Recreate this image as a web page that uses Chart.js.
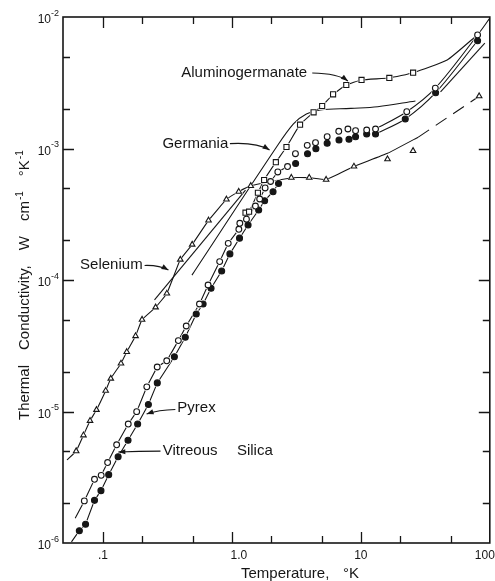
<!DOCTYPE html>
<html>
<head>
<meta charset="utf-8">
<script src="https://cdn.jsdelivr.net/npm/chart.js@4/dist/chart.umd.min.js"></script>
<style>
  html, body { margin: 0; padding: 0; background: #fff; }
  #wrap { width: 495px; height: 581px; position: relative; }
</style>
</head>
<body>
<div id="wrap"><canvas id="c"></canvas></div>
<script>
// Thermal conductivity of glasses vs temperature (log-log)

// Temperature (K) and conductivity (W cm^-1 K^-1) of the measured points
const seleniumT = [0.062, 0.0706, 0.0794, 0.0891, 0.105, 0.115, 0.138, 0.153, 0.179, 0.201, 0.256, 0.313, 0.398, 0.492, 0.659, 0.907, 1.13, 1.40, 2.89, 3.98, 5.38, 8.84, 16.1, 25.4, 82.7];
const seleniumK = [5.0e-6, 6.6e-6, 8.5e-6, 1.03e-5, 1.44e-5, 1.78e-5, 2.32e-5, 2.84e-5, 3.75e-5, 5.0e-5, 6.2e-5, 7.9e-5, 1.43e-4, 1.86e-4, 2.84e-4, 4.1e-4, 4.7e-4, 5.2e-4, 6.0e-4, 6.0e-4, 5.8e-4, 7.3e-4, 8.3e-4, 9.6e-4, 2.5e-3];

const pyrexT = [0.0717, 0.0860, 0.0969, 0.1087, 0.1277, 0.1571, 0.1826, 0.2188, 0.2635, 0.3124, 0.3843, 0.4426, 0.5604, 0.6536, 0.804, 0.9366, 1.132, 1.152, 1.297, 1.522, 1.642, 1.810, 1.995, 2.27, 2.70, 3.11, 3.84, 4.45, 5.48, 6.74, 7.94, 9.10, 11.1, 13.0, 22.7, 37.8, 80.4];
const pyrexK = [2.09e-6, 3.05e-6, 3.27e-6, 4.09e-6, 5.58e-6, 8.03e-6, 9.97e-6, 1.54e-5, 2.18e-5, 2.43e-5, 3.46e-5, 4.47e-5, 6.57e-5, 9.16e-5, 1.38e-4, 1.90e-4, 2.43e-4, 2.70e-4, 2.90e-4, 3.65e-4, 4.13e-4, 5.01e-4, 5.61e-4, 6.63e-4, 7.29e-4, 9.13e-4, 1.057e-3, 1.107e-3, 1.229e-3, 1.351e-3, 1.407e-3, 1.366e-3, 1.383e-3, 1.407e-3, 1.905e-3, 2.88e-3, 7.30e-3];

const silicaT = [0.0656, 0.0733, 0.0860, 0.0965, 0.1108, 0.1311, 0.1565, 0.1858, 0.2251, 0.2639, 0.358, 0.435, 0.529, 0.598, 0.689, 0.833, 0.965, 1.146, 1.335, 1.613, 1.794, 2.085, 2.30, 3.12, 3.86, 4.48, 5.48, 6.77, 8.09, 9.10, 11.1, 13.0, 22.1, 38.0, 80.4];
const silicaK = [1.24e-6, 1.39e-6, 2.11e-6, 2.50e-6, 3.31e-6, 4.53e-6, 6.04e-6, 8.03e-6, 1.13e-5, 1.65e-5, 2.61e-5, 3.67e-5, 5.51e-5, 6.57e-5, 8.65e-5, 1.17e-4, 1.58e-4, 2.08e-4, 2.62e-4, 3.41e-4, 4.01e-4, 4.69e-4, 5.42e-4, 7.69e-4, 9.13e-4, 9.96e-4, 1.095e-3, 1.16e-3, 1.175e-3, 1.229e-3, 1.289e-3, 1.289e-3, 1.676e-3, 2.656e-3, 6.60e-3];

const alumT = [1.275, 1.359, 1.591, 1.778, 2.192, 2.65, 3.377, 4.30, 5.01, 6.09, 7.71, 10.12, 16.63, 25.43];
const alumK = [3.25e-4, 3.31e-4, 4.61e-4, 5.76e-4, 7.87e-4, 1.027e-3, 1.517e-3, 1.884e-3, 2.104e-3, 2.583e-3, 3.04e-3, 3.32e-3, 3.44e-3, 3.77e-3];

// Drawn curves
const seleniumLineT = [0.0526, 0.062, 0.0706, 0.0794, 0.0891, 0.105, 0.115, 0.138, 0.153, 0.179, 0.201, 0.256, 0.313, 0.398, 0.492, 0.659, 0.907, 1.13, 1.40, 2.89, 3.98, 5.38, 8.84, 16.1, 27.9];
const seleniumLineK = [4.28e-6, 5.0e-6, 6.6e-6, 8.5e-6, 1.03e-5, 1.44e-5, 1.78e-5, 2.32e-5, 2.84e-5, 3.75e-5, 5.0e-5, 6.2e-5, 7.9e-5, 1.43e-4, 1.86e-4, 2.84e-4, 4.1e-4, 4.7e-4, 5.2e-4, 6.0e-4, 6.0e-4, 5.8e-4, 7.3e-4, 9.19e-4, 1.22e-3];
const seleniumDashT = [27.9, 82.7];
const seleniumDashK = [1.22e-3, 2.5e-3];
const seleniumFitT = [0.251, 1.275];
const seleniumFitK = [7.05e-5, 4.83e-4];

const pyrexLowT = [0.0609, 0.0717, 0.0860, 0.0969, 0.1087, 0.1277, 0.1571, 0.1826, 0.2188, 0.2635, 0.3124, 0.3843, 0.4426, 0.5604, 0.6536, 0.804, 0.9366, 1.132, 1.152, 1.297, 1.522, 1.642, 1.810, 1.995, 2.27, 2.70];
const pyrexLowK = [1.54e-6, 2.09e-6, 3.05e-6, 3.27e-6, 4.09e-6, 5.58e-6, 8.03e-6, 9.97e-6, 1.54e-5, 2.18e-5, 2.43e-5, 3.46e-5, 4.47e-5, 6.57e-5, 9.16e-5, 1.38e-4, 1.90e-4, 2.43e-4, 2.70e-4, 2.90e-4, 3.65e-4, 4.13e-4, 5.01e-4, 5.61e-4, 6.63e-4, 7.29e-4];
const pyrexHighT = [13.0, 22.7, 37.8, 80.4, 100];
const pyrexHighK = [1.407e-3, 1.905e-3, 2.88e-3, 7.30e-3, 9.8e-3];

const silicaLowT = [0.057, 0.0656, 0.0733, 0.0860, 0.0965, 0.1108, 0.1311, 0.1565, 0.1858, 0.2251, 0.2639, 0.358, 0.435, 0.529, 0.598, 0.689, 0.833, 0.965, 1.146, 1.335, 1.613, 1.794, 2.085, 2.30];
const silicaLowK = [1.02e-6, 1.24e-6, 1.39e-6, 2.11e-6, 2.50e-6, 3.31e-6, 4.53e-6, 6.04e-6, 8.03e-6, 1.13e-5, 1.65e-5, 2.61e-5, 3.67e-5, 5.51e-5, 6.57e-5, 8.65e-5, 1.17e-4, 1.58e-4, 2.08e-4, 2.62e-4, 3.41e-4, 4.01e-4, 4.69e-4, 5.42e-4];
const silicaHighT = [13.0, 22.1, 38.0, 80.4];
const silicaHighK = [1.289e-3, 1.676e-3, 2.656e-3, 6.60e-3];

const alumLineT = [1.275, 1.359, 1.591, 1.778, 2.192, 2.65, 3.377, 4.30, 5.01, 6.09, 7.71, 10.12, 16.63, 25.43, 46.7, 76.7];
const alumLineK = [3.25e-4, 3.31e-4, 4.61e-4, 5.76e-4, 7.87e-4, 1.027e-3, 1.517e-3, 1.884e-3, 2.104e-3, 2.583e-3, 3.04e-3, 3.32e-3, 3.44e-3, 3.77e-3, 4.71e-3, 7.05e-3];

const germaniaT = [0.49, 2.14, 3.0, 3.78, 4.84, 8.38, 13.5, 26.5];
const germaniaK = [1.09e-4, 9.74e-4, 1.54e-3, 1.83e-3, 1.96e-3, 2.02e-3, 2.08e-3, 2.30e-3];
const germaniaHighT = [41.5, 91.5];
const germaniaHighK = [2.70e-3, 6.34e-3];

// Axis ticks
const xTickValues = [0.1, 1, 10, 100];
const xTickLabels = ['.1', '1.0', '10', '100'];
const yTickValues = [1e-6, 1e-5, 1e-4, 1e-3, 1e-2];
const yTickExps = ['-6', '-5', '-4', '-3', '-2'];

const FONT = '"Liberation Sans", Arial, sans-serif';
const INK = '#161616';

const pts = (T, K) => T.map((t, i) => ({ x: t, y: K[i] }));

function markers(label, T, K, style, radius, fill) {
  return {
    label, data: pts(T, K), showLine: false, order: 0,
    pointStyle: style, pointRadius: radius, pointHoverRadius: radius,
    pointBackgroundColor: fill, pointBorderColor: INK, pointBorderWidth: 1.1
  };
}
// white clearance under each marker so the connecting lines stop short of it
function halo(T, K, style, radius) {
  return {
    label: 'halo', data: pts(T, K), showLine: false, order: 1,
    pointStyle: style, pointRadius: radius, pointHoverRadius: radius,
    pointBackgroundColor: '#fff', pointBorderColor: '#fff', pointBorderWidth: 0
  };
}
function curve(label, T, K, tension, dash) {
  return {
    label, data: pts(T, K), showLine: true, order: 2,
    pointRadius: 0, borderColor: INK, borderWidth: 1.1,
    tension: tension, borderDash: dash || [], fill: false
  };
}

// Text labels with leader arrows, in data coordinates
const callouts = [
  { text: 'Aluminogermanate', at: [0.405, 3.75e-3], arrow: [[4.2, 3.75e-3], [6.65, 3.72e-3], [7.94, 3.26e-3]] },
  { text: 'Germania', at: [0.289, 1.09e-3], arrow: [[0.965, 1.09e-3], [1.557, 1.12e-3], [1.96, 9.74e-4]] },
  { text: 'Selenium', at: [0.0665, 1.30e-4], arrow: [[0.2104, 1.29e-4], [0.2746, 1.30e-4], [0.322, 1.19e-4]] },
  { text: 'Pyrex', at: [0.3775, 1.07e-5], arrow: [[0.3643, 1.036e-5], [0.27, 1.03e-5], [0.218, 9.57e-6]] },
  { text: 'Vitreous', at: [0.291, 5.0e-6], arrow: [[0.2794, 5.0e-6], [0.19, 4.98e-6], [0.1316, 4.92e-6]] },
  { text: 'Silica', at: [1.093, 5.0e-6] }
];

const framePlugin = {
  id: 'frame',
  afterDatasetsDraw(chart) {
    const { ctx, chartArea: a, scales: { x, y } } = chart;
    ctx.save();
    ctx.strokeStyle = INK;
    ctx.fillStyle = INK;

    // frame
    ctx.lineWidth = 1.6;
    ctx.strokeRect(a.left, a.top, a.right - a.left, a.bottom - a.top);

    // inward ticks, majors at decades and minors at 2 and 5
    ctx.lineWidth = 1.3;
    const mant = [1, 2, 5];
    for (let e = -2; e <= 2; e++) {
      for (const m of mant) {
        const v = m * Math.pow(10, e);
        if (v <= x.min * 1.05 || v >= x.max * 0.999) continue;
        const px = Math.round(x.getPixelForValue(v)) + 0.5;
        const len = m === 1 ? 11 : 7;
        ctx.beginPath();
        ctx.moveTo(px, a.bottom); ctx.lineTo(px, a.bottom - len);
        ctx.moveTo(px, a.top); ctx.lineTo(px, a.top + len);
        ctx.stroke();
      }
    }
    for (let e = -6; e <= -2; e++) {
      for (const m of mant) {
        const v = m * Math.pow(10, e);
        if (v <= y.min * 1.001 || v >= y.max * 0.999) continue;
        const py = Math.round(y.getPixelForValue(v)) + 0.5;
        const len = m === 1 ? 11 : 7;
        ctx.beginPath();
        ctx.moveTo(a.left, py); ctx.lineTo(a.left + len, py);
        ctx.moveTo(a.right, py); ctx.lineTo(a.right - len, py);
        ctx.stroke();
      }
    }

    // y tick labels: 10 with superscript exponent
    yTickValues.forEach((v, i) => {
      const py = y.getPixelForValue(v);
      ctx.font = '12px ' + FONT;
      ctx.textAlign = 'right';
      ctx.textBaseline = 'middle';
      ctx.fillText('10', a.left - 12, py + 3);
      ctx.font = '9px ' + FONT;
      ctx.textAlign = 'left';
      ctx.fillText(yTickExps[i], a.left - 12, py - 3.5);
    });

    // x tick labels
    ctx.font = '12px ' + FONT;
    ctx.textBaseline = 'middle';
    xTickValues.forEach((v, i) => {
      const px = x.getPixelForValue(v);
      const lab = xTickLabels[i];
      ctx.textAlign = 'center';
      let dx = 0;
      if (lab === '1.0') dx = 7;
      if (lab === '100') dx = -5;
      ctx.fillText(lab, px + dx, a.bottom + 13);
    });

    // x title
    ctx.font = '15px ' + FONT;
    ctx.textAlign = 'left';
    ctx.fillText('Temperature,', 241, a.bottom + 31);
    ctx.fillText('\u00B0K', 343, a.bottom + 31);

    // y title (rotated, reading upward)
    ctx.save();
    ctx.translate(25, 420);
    ctx.rotate(-Math.PI / 2);
    ctx.textAlign = 'left';
    ctx.textBaseline = 'middle';
    const runs = [['Thermal', 0], [' ', 2], ['Conductivity,', 0], [' ', 2], ['W', 0], [' ', 2], ['cm', 0], ['-1', 1], [' ', 2], ['\u00B0K', 0], ['-1', 1]];
    let cx = 0;
    for (const [t, kind] of runs) {
      if (kind === 2) { cx += 15; continue; }
      ctx.font = (kind === 1 ? '10px ' : '15px ') + FONT;
      ctx.fillText(t, cx + (kind === 1 ? 1 : 0), kind === 1 ? -5 : 0);
      cx += ctx.measureText(t).width + (kind === 1 ? 1 : 0);
    }
    ctx.restore();

    // callouts
    ctx.font = '15px ' + FONT;
    ctx.textAlign = 'left';
    ctx.textBaseline = 'middle';
    ctx.lineWidth = 1.1;
    for (const c of callouts) {
      const tx = x.getPixelForValue(c.at[0]);
      const ty = y.getPixelForValue(c.at[1]);
      ctx.fillText(c.text, tx, ty);
      if (!c.arrow) continue;
      const p = c.arrow.map(([t, k]) => [x.getPixelForValue(t), y.getPixelForValue(k)]);
      ctx.beginPath();
      ctx.moveTo(p[0][0], p[0][1]);
      ctx.quadraticCurveTo(p[1][0], p[1][1], p[2][0], p[2][1]);
      ctx.stroke();
      const ang = Math.atan2(p[2][1] - p[1][1], p[2][0] - p[1][0]);
      const L = 7, W = 2.6;
      ctx.beginPath();
      ctx.moveTo(p[2][0], p[2][1]);
      ctx.lineTo(p[2][0] - L * Math.cos(ang) + W * Math.sin(ang), p[2][1] - L * Math.sin(ang) - W * Math.cos(ang));
      ctx.lineTo(p[2][0] - L * Math.cos(ang) - W * Math.sin(ang), p[2][1] - L * Math.sin(ang) + W * Math.cos(ang));
      ctx.closePath();
      ctx.fill();
    }
    ctx.restore();
  }
};

new Chart(document.getElementById('c'), {
  type: 'scatter',
  data: {
    datasets: [
      markers('Aluminogermanate', alumT, alumK, 'rect', 3.6, '#fff'),
      markers('Pyrex', pyrexT, pyrexK, 'circle', 2.9, '#fff'),
      markers('Vitreous Silica', silicaT, silicaK, 'circle', 3.0, INK),
      markers('Selenium', seleniumT, seleniumK, 'triangle', 3.2, '#fff'),
      halo(alumT, alumK, 'rect', 5.2),
      halo(pyrexT, pyrexK, 'circle', 4.2),
      halo(silicaT, silicaK, 'circle', 4.2),
      halo(seleniumT, seleniumK, 'triangle', 4.8),
      curve('Aluminogermanate curve', alumLineT, alumLineK, 0.15),
      curve('Pyrex curve', pyrexLowT, pyrexLowK, 0),
      curve('Pyrex high', pyrexHighT, pyrexHighK, 0.3),
      curve('Silica curve', silicaLowT, silicaLowK, 0),
      curve('Silica high', silicaHighT, silicaHighK, 0.3),
      curve('Selenium curve', seleniumLineT, seleniumLineK, 0.1),
      curve('Selenium dashed', seleniumDashT, seleniumDashK, 0, [13, 8]),
      curve('Selenium fit', seleniumFitT, seleniumFitK, 0),
      curve('Germania', germaniaT, germaniaK, 0.35),
      curve('Germania high', germaniaHighT, germaniaHighK, 0)
    ]
  },
  options: {
    responsive: true,
    maintainAspectRatio: false,
    animation: false,
    events: [],
    layout: { padding: { left: 63, top: 17, right: 1, bottom: 38 } },
    plugins: { legend: { display: false }, tooltip: { enabled: false } },
    scales: {
      x: { type: 'logarithmic', min: 0.049, max: 100, display: false, bounds: 'data' },
      y: { type: 'logarithmic', min: 1e-6, max: 1e-2, display: false, bounds: 'data' }
    }
  },
  plugins: [framePlugin]
});
</script>
</body>
</html>
